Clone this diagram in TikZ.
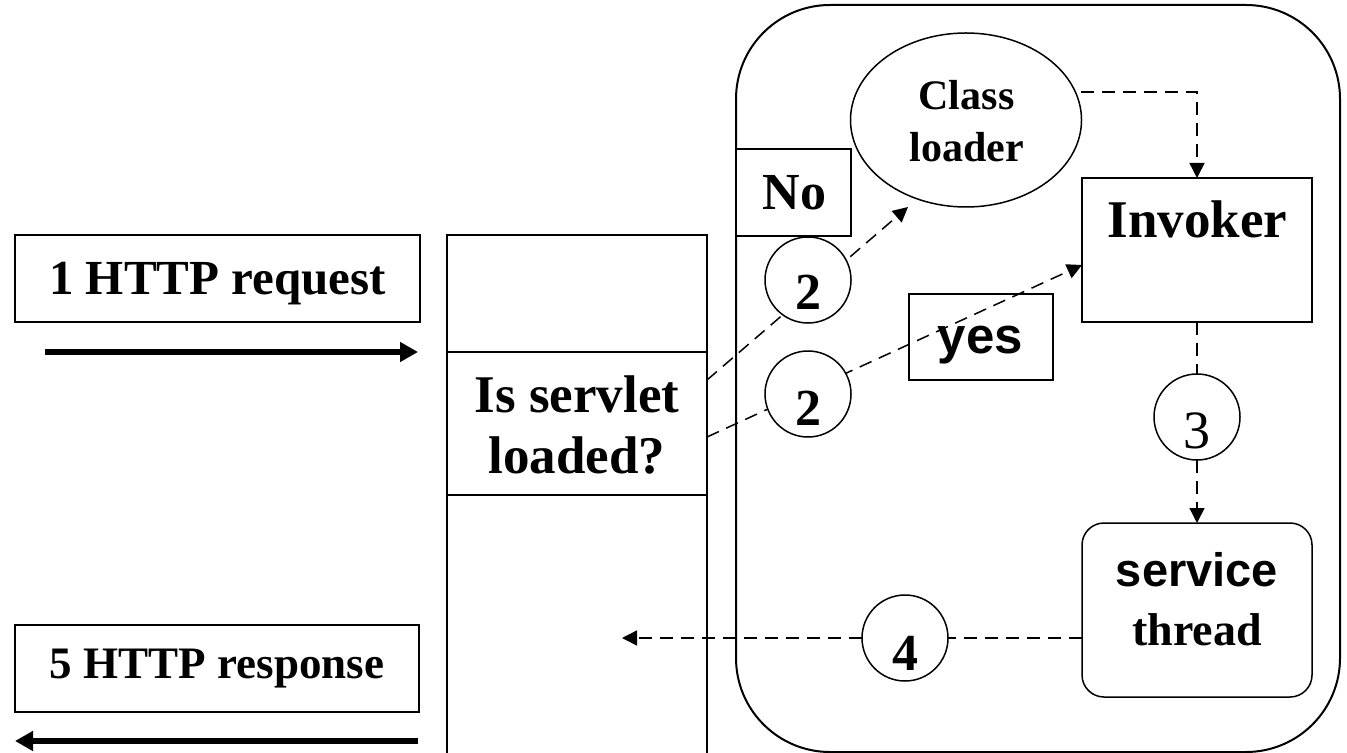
\documentclass[tikz,border=0pt]{standalone}
\usepackage{fontspec}
\setmainfont{Liberation Serif}
\newfontfamily\arialf{Liberation Sans}
\usetikzlibrary{arrows.meta,shapes.geometric}
\begin{document}
\begin{tikzpicture}[x=0.5pt,y=-0.5pt,
  box/.style={draw, line width=0.75pt, inner sep=0pt, outer sep=0pt, fill=white},
  circ/.style={draw, circle, line width=0.75pt, minimum size=43pt, inner sep=0pt, outer sep=0pt, fill=white},
  txt/.style={inner sep=0pt, outer sep=0pt, anchor=base},
  dsh/.style={line width=0.75pt, dash pattern=on 6.5pt off 4pt},
  dtip/.style={-{Triangle[length=7.5pt,width=7.5pt]}},
  bigarrow/.style={line width=2.75pt, -{Triangle[length=9pt,width=9.5pt]}}
]
\useasboundingbox (0,0) rectangle (1347,753);

% left request / response
\node[box, minimum width=202.5pt, minimum height=43.5pt] (reqbox) at (217.5,278.5) {};
\node[txt, font=\bfseries\fontsize{24.5}{24.5}\selectfont] (reqtxt) at (217.5,295) {1 HTTP request};
\coordinate (reqA) at (45,352);
\coordinate (reqB) at (418,352);
\draw[bigarrow] (reqA) -- (reqB);

\node[box, minimum width=202pt, minimum height=43.5pt] (resbox) at (217,668.5) {};
\node[txt, font=\bfseries\fontsize{22.5}{22.5}\selectfont] (restxt) at (217,678) {5 HTTP response};
\coordinate (resA) at (418,741);
\coordinate (resB) at (15,741);
\draw[bigarrow] (resA) -- (resB);

% column
\node[box, minimum width=130pt, minimum height=58.5pt] (topcell) at (577,293.5) {};
\node[box, minimum width=130pt, minimum height=71.5pt] (mid) at (577,423.5) {};
\node[box, minimum width=130pt, minimum height=137.5pt] (botcell) at (577,632.5) {};
\node[txt, font=\bfseries\fontsize{26.5}{26.5}\selectfont] (q1) at (577,412) {Is servlet};
\node[txt, font=\bfseries\fontsize{26.5}{26.5}\selectfont] (q2) at (577,473) {loaded?};

% container
\node[draw, line width=1pt, rounded corners=47pt, inner sep=0pt, outer sep=0pt,
      minimum width=302pt, minimum height=373.5pt] (cont) at (1038,378.5) {};

% class loader
\node[draw, ellipse, line width=0.75pt, inner sep=0pt, minimum width=115.5pt, minimum height=87pt] (cl) at (966,120) {};
\node[txt, font=\bfseries\fontsize{21}{21}\selectfont] (cl1) at (966.5,110) {Class};
\node[txt, font=\bfseries\fontsize{21}{21}\selectfont] (cl2) at (966.5,162) {loader};

% No box
\node[box, minimum width=57.5pt, minimum height=43.5pt] (nobox) at (793.5,192.5) {};
\node[txt, font=\bfseries\fontsize{26}{26}\selectfont] (notxt) at (794.5,210) {No};

% Invoker
\node[box, minimum width=115pt, minimum height=72pt] (inv) at (1197,250) {};
\node[txt, font=\bfseries\fontsize{26.5}{26.5}\selectfont] (invtxt) at (1197.5,238) {Invoker};

% yes box
\node[box, minimum width=72pt, minimum height=43pt] (yesbox) at (981,337) {};
\node[txt, font=\arialf\bfseries\fontsize{25.5}{25.5}\selectfont] (yestxt) at (980.5,353) {yes};

% service thread
\node[box, rounded corners=11pt, minimum width=115pt, minimum height=87pt] (svc) at (1197,610) {};
\node[txt, font=\arialf\bfseries\fontsize{23.5}{23.5}\selectfont] (svc1) at (1197,586) {service};
\node[txt, font=\bfseries\fontsize{23}{23}\selectfont] (svc2) at (1197,645) {thread};

% dashed connectors from the decision
\coordinate (s1) at (707,380);
\coordinate (t1) at (908,207);
\coordinate (s2) at (707,437);
\coordinate (t2) at (1082,265);
\draw[dsh,dtip] (s1) -- (t1);
\draw[dsh,dtip] (s2) -- (t2);

% circles
\node[circ] (c2a) at (808,280) {};
\node[txt, font=\bfseries\fontsize{26}{26}\selectfont] at (808,310) {2};
\node[circ] (c2b) at (808,394) {};
\node[txt, font=\bfseries\fontsize{26}{26}\selectfont] at (808,425) {2};
\node[circ] (c3) at (1197,417) {};
\node[txt, font=\fontsize{27}{27}\selectfont] at (1197,448) {3};
\node[circ] (c4) at (905,638) {};
\node[txt, font=\bfseries\fontsize{26}{26}\selectfont] at (905,670) {4};

% class loader -> invoker
\coordinate (clr) at (1081,92);
\draw[dsh,dtip] (clr) -| (inv.north);
% invoker -> 3 -> service
\draw[dsh] (inv.south) -- (c3.north);
\draw[dsh,dtip] (c3.south) -- (svc.north);
% service -> 4 -> back
\coordinate (svcw) at (1082,638);
\coordinate (back) at (622,638);
\draw[dsh] (svcw) -- (c4.east);
\draw[dsh,dtip] (c4.west) -- (back);
\end{tikzpicture}
\end{document}
